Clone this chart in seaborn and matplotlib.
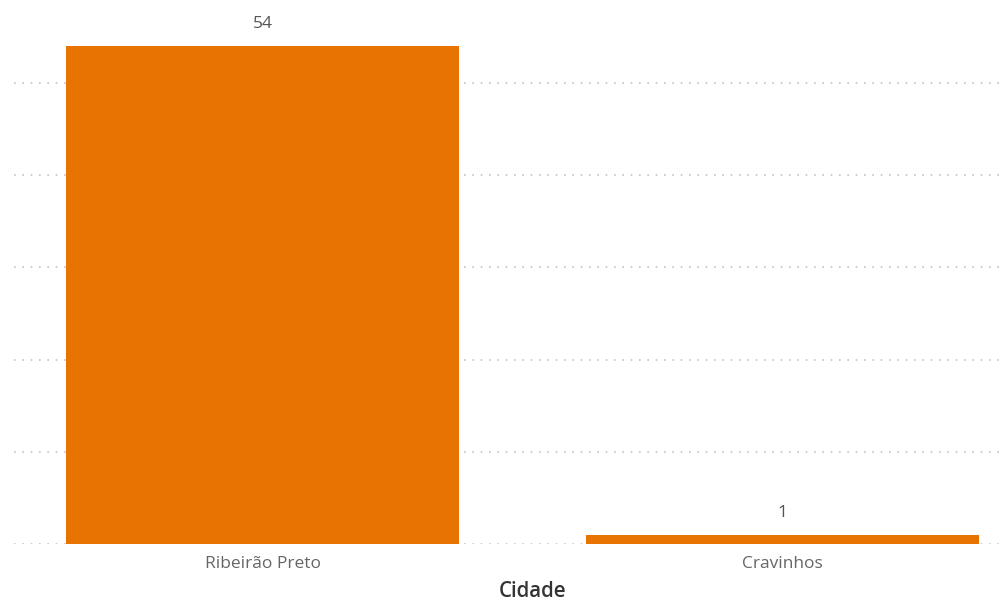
import matplotlib
matplotlib.use("Agg")
import matplotlib.pyplot as plt
import seaborn as sns
import pandas as pd

cidades = ["Ribeirão Preto", "Cravinhos"]
quantidades = [54, 1]

df = pd.DataFrame({"Cidade": cidades, "Quantidade": quantidades})

sns.set_theme(style="white")
plt.rcParams["font.family"] = ["Open Sans", "DejaVu Sans"]

fig = plt.figure(figsize=(10.04, 6.07), dpi=100)
ax = fig.add_axes([14 / 1004, 63 / 607, 990 / 1004, 544 / 607])

sns.barplot(data=df, x="Cidade", y="Quantidade", color="#E87300",
            saturation=1, width=0.756, linewidth=0, ax=ax, zorder=3)

for p, v in zip(ax.patches, quantidades):
    ax.text(p.get_x() + p.get_width() / 2, p.get_height() + 1.5, f"{v}",
            ha="center", va="bottom", fontsize=12.5, color="#555555")

ax.set_xlim(-0.478, 1.426)
ax.set_ylim(0, 59.0)
ax.set_yticks([0, 10, 20, 30, 40, 50])
ax.set_yticklabels([])
ax.tick_params(axis="y", length=0)
ax.tick_params(axis="x", length=0, pad=8.5, labelsize=12.5, labelcolor="#666666")
ax.yaxis.grid(True, linestyle=(0, (1, 4)), color="#c4c4c4", linewidth=1.2, zorder=0)
ax.set_axisbelow(True)
for s in ax.spines.values():
    s.set_visible(False)

ax.set_ylabel("")
ax.set_xlabel("Cidade", fontsize=14.8, color="#333333", fontweight="semibold")
ax.xaxis.set_label_coords(0.524, -0.0864)
ax.xaxis.label.set_va("center")

fig.savefig("out.png", dpi=100)
